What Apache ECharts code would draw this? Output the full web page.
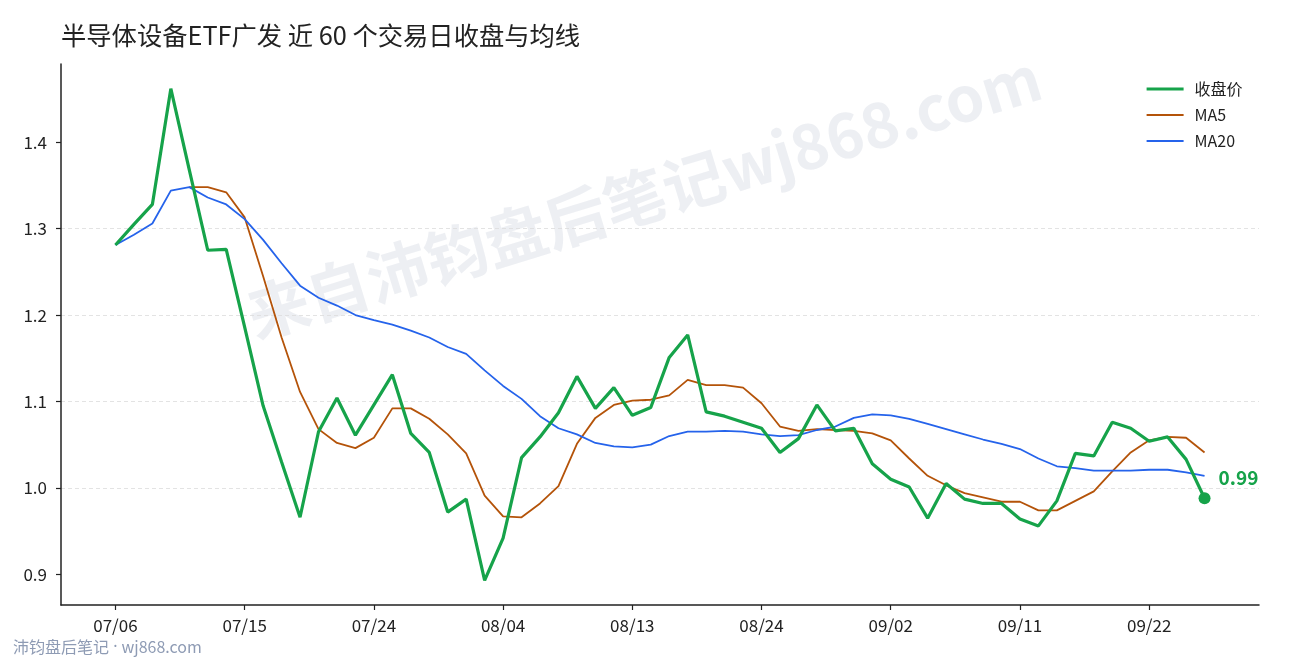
<!DOCTYPE html>
<html>
<head>
<meta charset="utf-8">
<title>半导体设备ETF广发 近 60 个交易日收盘与均线</title>
<script src="https://cdn.jsdelivr.net/npm/echarts@6.0.0/dist/echarts.min.js"></script>
<style>
  html, body { margin: 0; padding: 0; background: #fff; }
  #chart { width: 1290px; height: 660px; }
</style>
</head>
<body>
<div id="chart"></div>
<script>
// --- 数据：近 60 个交易日 ---
var dates = ['07/06', '07/07', '07/08', '07/09', '07/10', '07/13', '07/14', '07/15', '07/16', '07/17',
  '07/20', '07/21', '07/22', '07/23', '07/24', '07/27', '07/28', '07/29', '07/30', '07/31',
  '08/03', '08/04', '08/05', '08/06', '08/07', '08/10', '08/11', '08/12', '08/13', '08/14',
  '08/17', '08/18', '08/19', '08/20', '08/21', '08/24', '08/25', '08/26', '08/27', '08/28',
  '08/31', '09/01', '09/02', '09/03', '09/04', '09/07', '09/08', '09/09', '09/10', '09/11',
  '09/14', '09/15', '09/16', '09/17', '09/18', '09/21', '09/22', '09/23', '09/24', '09/25'];

var close = [1.281, 1.305, 1.328, 1.462, 1.368, 1.275, 1.276, 1.186, 1.095, 1.030,
  0.966, 1.065, 1.104, 1.061, 1.096, 1.131, 1.063, 1.041, 0.972, 0.987,
  0.893, 0.942, 1.035, 1.059, 1.087, 1.129, 1.092, 1.116, 1.084, 1.093,
  1.151, 1.177, 1.088, 1.083, 1.076, 1.069, 1.041, 1.057, 1.096, 1.066,
  1.069, 1.028, 1.010, 1.001, 0.965, 1.005, 0.987, 0.982, 0.982, 0.964,
  0.956, 0.985, 1.040, 1.037, 1.076, 1.069, 1.054, 1.059, 1.033, 0.988];

var ma5 = [null, null, null, null, 1.348, 1.348, 1.342, 1.313, 1.245, 1.174,
  1.111, 1.068, 1.052, 1.046, 1.058, 1.092, 1.092, 1.080, 1.062, 1.040,
  0.991, 0.967, 0.966, 0.982, 1.002, 1.051, 1.081, 1.096, 1.101, 1.102,
  1.107, 1.125, 1.119, 1.119, 1.116, 1.098, 1.071, 1.066, 1.068, 1.067,
  1.066, 1.063, 1.055, 1.034, 1.014, 1.003, 0.994, 0.989, 0.984, 0.984,
  0.974, 0.974, 0.985, 0.996, 1.019, 1.041, 1.055, 1.059, 1.058, 1.041];

var ma20 = [1.281, 1.293, 1.306, 1.344, 1.348, 1.336, 1.328, 1.311, 1.287, 1.260,
  1.234, 1.220, 1.211, 1.200, 1.194, 1.189, 1.182, 1.174, 1.163, 1.155,
  1.136, 1.118, 1.103, 1.083, 1.069, 1.062, 1.052, 1.048, 1.047, 1.050,
  1.060, 1.065, 1.065, 1.066, 1.065, 1.062, 1.060, 1.061, 1.067, 1.071,
  1.081, 1.085, 1.084, 1.080, 1.074, 1.068, 1.062, 1.056, 1.051, 1.045,
  1.034, 1.025, 1.023, 1.020, 1.020, 1.020, 1.021, 1.021, 1.018, 1.014];

var xTicks = [0, 7, 14, 21, 28, 35, 42, 49, 56];
var yTicks = [0.9, 1.0, 1.1, 1.2, 1.3, 1.4];

(function() {
  var green = '#16a34a';
  var orange = '#b45309';
  var blue = '#2563eb';
  var ink = '#222';
  var font = '"Noto Sans CJK SC", "Noto Sans", sans-serif';

  function pairs(arr) {
    return arr.map(function(v, i) { return [i, v]; });
  }

  var last = close.length - 1;
  var chart = echarts.init(document.getElementById('chart'), null, { renderer: 'canvas' });

  chart.setOption({
    animation: false,
    backgroundColor: '#fff',
    textStyle: { fontFamily: font },
    title: {
      text: '半导体设备ETF广发 近 60 个交易日收盘与均线',
      left: 61,
      top: 23,
      padding: 0,
      textStyle: { color: ink, fontSize: 25.3, fontWeight: 'normal', fontFamily: font }
    },
    legend: {
      orient: 'vertical',
      left: 1145,
      top: 81,
      padding: 0,
      itemWidth: 37,
      itemHeight: 14,
      itemGap: 10,
      itemStyle: { opacity: 0 },
      data: [
        { name: '收盘价', lineStyle: { width: 3.2 } },
        { name: 'MA5', lineStyle: { width: 1.8 } },
        { name: 'MA20', lineStyle: { width: 1.8 } }
      ],
      textStyle: { color: ink, fontSize: 16, fontFamily: font, padding: [0, 0, 0, 6] }
    },
    grid: { left: 61, right: 31, top: 64, bottom: 55, outerBoundsMode: 'none' },
    xAxis: {
      type: 'value',
      min: -2.95,
      max: 61.95,
      axisLine: { onZero: false, lineStyle: { color: ink, width: 1.5 } },
      axisTick: { customValues: xTicks, length: 5, lineStyle: { color: ink, width: 1.2 } },
      axisLabel: {
        customValues: xTicks,
        color: ink,
        fontSize: 17,
        margin: 12,
        formatter: function(v) { return dates[Math.round(v)] || ''; }
      },
      splitLine: { show: false }
    },
    yAxis: {
      type: 'value',
      min: 0.8645,
      max: 1.4905,
      axisLine: { show: true, onZero: false, lineStyle: { color: ink, width: 1.5 } },
      axisTick: { show: true, customValues: yTicks, length: 5, lineStyle: { color: ink, width: 1.2 } },
      axisLabel: {
        customValues: yTicks,
        color: ink,
        fontSize: 17,
        margin: 14,
        formatter: function(v) { return v.toFixed(1); }
      },
      splitLine: {
        show: true,
        showMinLine: false,
        showMaxLine: false,
        lineStyle: { color: '#dcdcdc', width: 0.8, type: [4, 3] }
      }
    },
    graphic: [
      {
        // 水印
        type: 'text',
        x: 644,
        y: 196,
        rotation: 17 * Math.PI / 180,
        z: 0,
        silent: true,
        style: {
          text: '来自沛钧盘后笔记wj868.com',
          fill: 'rgba(150,160,185,0.17)',
          font: 'bold 62px ' + font,
          align: 'center',
          verticalAlign: 'middle'
        }
      },
      {
        type: 'text',
        left: 13,
        top: 639,
        silent: true,
        style: {
          text: '沛钧盘后笔记{d| · }wj868.com',
          fill: '#8e9bb4',
          font: '16px ' + font,
          rich: { d: { fontFamily: 'Noto Sans', fontSize: 16, fill: '#8e9bb4' } }
        }
      }
    ],
    series: [
      {
        name: 'MA5',
        type: 'line',
        data: pairs(ma5),
        symbol: 'none',
        z: 2,
        lineStyle: { color: orange, width: 1.8 },
        itemStyle: { color: orange }
      },
      {
        name: 'MA20',
        type: 'line',
        data: pairs(ma20),
        symbol: 'none',
        z: 2,
        lineStyle: { color: blue, width: 1.8 },
        itemStyle: { color: blue }
      },
      {
        name: '收盘价',
        type: 'line',
        data: pairs(close),
        symbol: 'none',
        z: 3,
        lineStyle: { color: green, width: 3.2 },
        itemStyle: { color: green }
      },
      {
        // 最后一个交易日收盘价标注
        name: 'last',
        type: 'scatter',
        data: [[last, close[last]]],
        symbolSize: 12,
        z: 4,
        itemStyle: { color: green, opacity: 1 },
        label: {
          show: true,
          position: [20, -24],
          formatter: function(p) { return p.value[1].toFixed(2); },
          color: green,
          fontSize: 19,
          fontWeight: 'bold',
          fontFamily: font
        }
      }
    ]
  });
})();
</script>
</body>
</html>
